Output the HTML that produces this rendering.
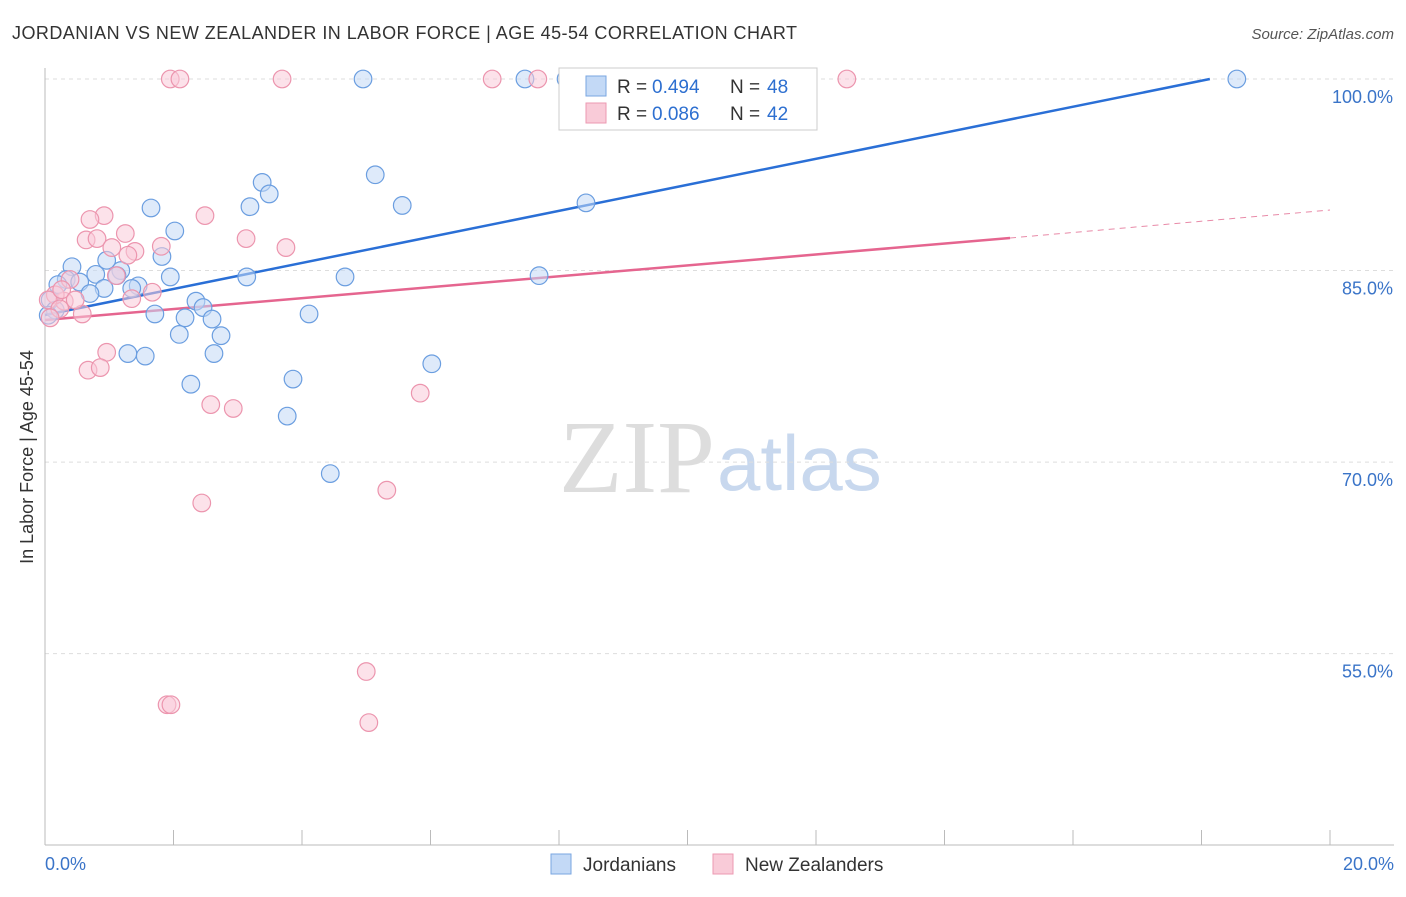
<!DOCTYPE html>
<html><head><meta charset="utf-8"><style>
body{margin:0;background:#fff;font-family:"Liberation Sans",sans-serif}
</style></head><body>
<svg width="1406" height="892" xmlns="http://www.w3.org/2000/svg">
<text x="12" y="39" font-size="18" fill="#333" textLength="785">JORDANIAN VS NEW ZEALANDER IN LABOR FORCE | AGE 45-54 CORRELATION CHART</text>
<text x="1394" y="39" font-size="15" fill="#555" font-style="italic" text-anchor="end">Source: ZipAtlas.com</text>
<text x="715" y="492" font-size="104" fill="#ddd" text-anchor="end" font-family="Liberation Serif,serif">ZIP</text>
<text x="717" y="490" font-size="78" fill="#c8d8ee">atlas</text>
<g id="grid"></g>
<line x1="45" y1="68" x2="45" y2="845" stroke="#bbb"/>
<line x1="45" y1="845" x2="1394" y2="845" stroke="#bbb"/>
<text x="33" y="457" font-size="18" fill="#333" transform="rotate(-90 33 457)" text-anchor="middle">In Labor Force | Age 45-54</text>
<text x="45" y="870" font-size="18" fill="#3a74c8">0.0%</text>
<text x="1394" y="870" font-size="18" fill="#3a74c8" text-anchor="end">20.0%</text>
<g id="lines"></g>
<g id="pts"></g>
<g>
<rect x="559" y="68" width="258" height="62" fill="#fff" stroke="#ccc"/>
<rect x="586" y="76" width="20" height="20" fill="#c3d9f6" stroke="#7aa6e0"/>
<text x="617" y="93" font-size="19" fill="#333">R =</text>
<text x="652" y="93" font-size="19" fill="#2d6fd0">0.494</text>
<text x="730" y="93" font-size="19" fill="#333">N =</text>
<text x="767" y="93" font-size="19" fill="#2d6fd0">48</text>
<rect x="586" y="103" width="20" height="20" fill="#f9cbd8" stroke="#ec9ab2"/>
<text x="617" y="120" font-size="19" fill="#333">R =</text>
<text x="652" y="120" font-size="19" fill="#2d6fd0">0.086</text>
<text x="730" y="120" font-size="19" fill="#333">N =</text>
<text x="767" y="120" font-size="19" fill="#2d6fd0">42</text>
</g>
<g>
<rect x="551" y="854" width="20" height="20" fill="#c3d9f6" stroke="#7aa6e0"/>
<text x="583" y="871" font-size="19" fill="#333">Jordanians</text>
<rect x="713" y="854" width="20" height="20" fill="#f9cbd8" stroke="#ec9ab2"/>
<text x="745" y="871" font-size="19" fill="#333">New Zealanders</text>
</g>
</svg>
<script>
const yTicks=[100,85,70,55];
const xTickVals=[0,2,4,6,8,10,12,14,16,18,20];
const blueX=[18.55,4.95,7.47,8.11,5.14,3.38,3.49,3.19,1.65,5.56,8.42,2.02,1.82,0.96,0.42,1.18,0.79,1.12,1.95,3.14,4.67,7.69,0.33,0.54,0.2,1.45,0.92,1.35,0.7,2.35,2.46,1.71,2.18,2.6,4.11,2.09,2.74,1.29,1.56,2.63,6.02,3.86,2.27,3.77,4.44,0.08,0.16,0.05];
const blueY=[100,100,100,100,92.5,91.9,91.0,90.0,89.9,90.1,90.3,88.1,86.1,85.8,85.3,85.0,84.7,84.6,84.5,84.5,84.5,84.6,84.3,84.1,83.9,83.8,83.6,83.6,83.2,82.6,82.1,81.6,81.3,81.2,81.6,80.0,79.9,78.5,78.3,78.5,77.7,76.5,76.1,73.6,69.1,82.7,81.9,81.5];
const pinkX=[1.95,2.1,3.69,6.96,7.67,12.48,2.49,0.92,0.7,1.25,3.13,0.64,0.81,1.81,3.75,1.4,1.04,1.29,1.11,0.39,1.67,1.35,0.3,0.58,0.96,0.67,0.86,2.58,2.93,5.84,5.32,2.44,5.0,1.9,1.96,5.04,0.16,0.05,0.23,0.08,0.26,0.47];
const pinkY=[100,100,100,100,100,100,89.3,89.3,89.0,87.9,87.5,87.4,87.5,86.9,86.8,86.5,86.8,86.2,84.6,84.3,83.3,82.8,82.6,81.6,78.6,77.2,77.4,74.5,74.2,75.4,67.8,66.8,53.6,51.0,51.0,49.6,83.1,82.7,82.0,81.3,83.5,82.7];
const blueFit=[[0,81.52],[18.13,100]];
const pinkFit=[[0,81.13],[15.02,87.55]];
const pinkDash=[[15.02,87.55],[20,89.74]];
const NS='http://www.w3.org/2000/svg';
const X=v=>45+v*64.25, Y=v=>79+(100-v)*12.77;
function mk(tag,attrs,parent){const e=document.createElementNS(NS,tag);for(const k in attrs)e.setAttribute(k,attrs[k]);document.getElementById(parent).appendChild(e);return e;}
yTicks.forEach(t=>{
 const l=mk('line',{x1:45,x2:1394,y1:Y(t),y2:Y(t),stroke:'#ddd','stroke-dasharray':'4 4'},'grid');
 
 
 const tx=mk('text',{x:1393,y:Y(t)+24,'font-size':18,fill:'#3a74c8','text-anchor':'end'},'grid');
 tx.textContent=t.toFixed(1)+'%';
 
 
});
xTickVals.forEach(t=>{
 const l=mk('line',{x1:X(t),x2:X(t),y1:830,y2:845,stroke:'#bbb'},'grid');
 
 
});
function pts(xs,ys,fill,stroke,name){xs.forEach((x,i)=>{
 const c=mk('circle',{cx:X(x),cy:Y(ys[i]),r:8.8,fill:fill,'fill-opacity':0.55,stroke:stroke,'stroke-width':1.2},'pts');
 
 
});}
pts(blueX,blueY,'#c3d9f6','#6b9ee0','jordanian-point');
pts(pinkX,pinkY,'#f9cbd8','#ec95ae','new-zealander-point');
function ln(p,color,name,dash){
 const l=mk('line',{x1:X(p[0][0]),y1:Y(p[0][1]),x2:X(p[1][0]),y2:Y(p[1][1]),stroke:color,'stroke-width':dash?1:2.5,'stroke-dasharray':dash||''},'lines');
 
 
}
ln(blueFit,'#2a6fd6','jordanian-trendline');
ln(pinkFit,'#e5658f','new-zealander-trendline');
ln(pinkDash,'#e88aa8','new-zealander-trendline-extension','6 5');
</script>
</body></html>
